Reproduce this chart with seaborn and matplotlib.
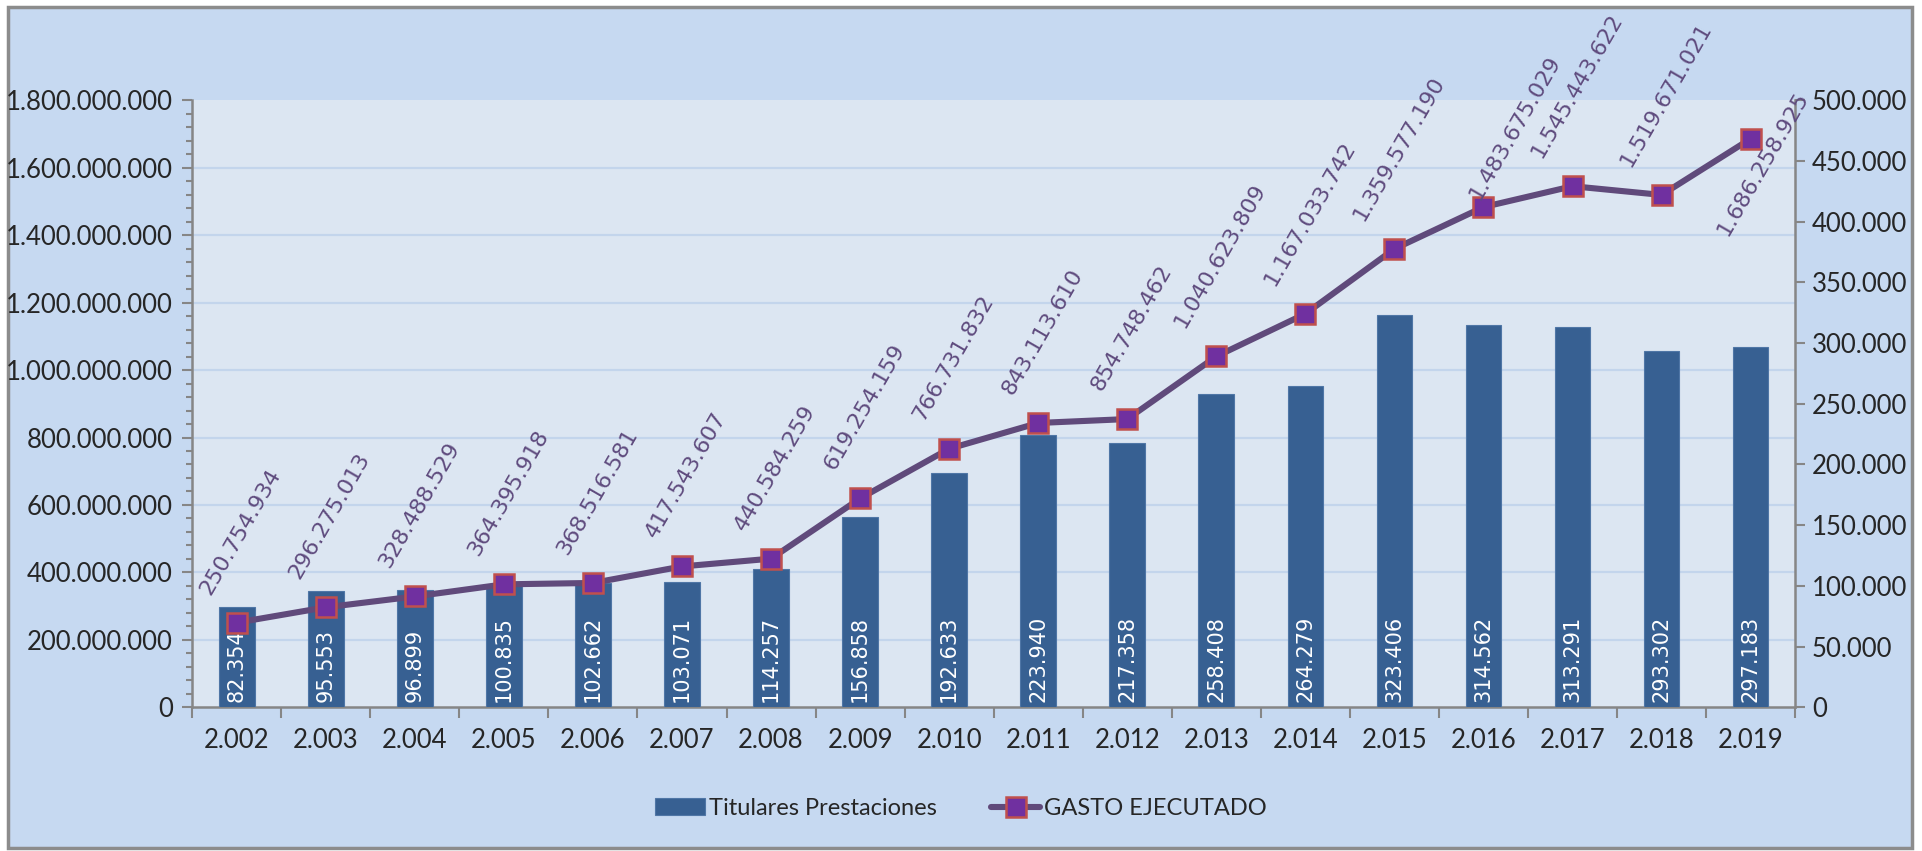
import numpy as np
import matplotlib
matplotlib.use("Agg")
import matplotlib.pyplot as plt
from matplotlib.patches import Rectangle
from matplotlib.ticker import FuncFormatter, MultipleLocator, FixedLocator
import seaborn as sns

# === DATA ===
years = ["2.002", "2.003", "2.004", "2.005", "2.006", "2.007", "2.008", "2.009", "2.010",
         "2.011", "2.012", "2.013", "2.014", "2.015", "2.016", "2.017", "2.018", "2.019"]
titulares = [82354, 95553, 96899, 100835, 102662, 103071, 114257, 156858, 192633,
             223940, 217358, 258408, 264279, 323406, 314562, 313291, 293302, 297183]
gasto = [250754934, 296275013, 328488529, 364395918, 368516581, 417543607, 440584259,
         619254159, 766731832, 843113610, 854748462, 1040623809, 1167033742,
         1359577190, 1483675029, 1545443622, 1519671021, 1686258925]

# === STYLE ===
BAR_COLOR = "#376092"
LINE_COLOR = "#604A7B"
LABEL_COLOR = "#5F4B7E"
MARK_FACE = "#7030A0"
MARK_EDGE = "#C0504D"
CHART_BG = "#C6D9F1"
PLOT_BG = "#DCE6F2"
GRID = "#C3D5EC"
SPINE = "#868686"
TICK_FS = 18.5

sns.set_theme(style="white")
plt.rcParams["font.family"] = ["Lato", "DejaVu Sans"]


def dots(v, pos=None):
    return f"{v:,.0f}".replace(",", ".")


fig = plt.figure(figsize=(19.22, 8.51), dpi=100)
fig.patch.set_facecolor("white")
fig.patches.append(Rectangle((0.004, 0.004), 0.991, 0.988, transform=fig.transFigure,
                             facecolor=CHART_BG, edgecolor="#8C8C8C", linewidth=2.5,
                             zorder=-10))

ax_bar = fig.add_axes([0.100, 0.169, 0.834, 0.713])
ax_bar.set_facecolor(PLOT_BG)
ax_line = ax_bar.twinx()

# bars on the right axis
sns.barplot(x=years, y=titulares, color=BAR_COLOR, saturation=1, width=0.4,
            ax=ax_bar, legend=False, zorder=3)
for p in ax_bar.patches:
    p.set_edgecolor("#4F76A6")
    p.set_linewidth(0.8)

# line on the left axis
x = np.arange(len(years))
sns.lineplot(x=x, y=gasto, ax=ax_line, color=LINE_COLOR, linewidth=4.4, marker="s",
             markersize=14, markerfacecolor=MARK_FACE, markeredgecolor=MARK_EDGE,
             markeredgewidth=1.8, legend=False)

L_MAX, R_MAX = 1.8e9, 5e5
ax_line.set_ylim(0, L_MAX)
ax_bar.set_ylim(0, R_MAX)
ax_bar.set_xlim(-0.5, len(years) - 0.5)
ax_line.set_xlim(-0.5, len(years) - 0.5)

# gridlines from the left axis, drawn behind the bars
for v in np.arange(2e8, L_MAX, 2e8):
    ax_bar.axhline(v / L_MAX * R_MAX, color=GRID, linewidth=1.6, zorder=1)

# axes / ticks
ax_line.yaxis.tick_left()
ax_line.yaxis.set_major_locator(MultipleLocator(2e8))
ax_line.yaxis.set_minor_locator(MultipleLocator(4e7))
ax_line.yaxis.set_major_formatter(FuncFormatter(dots))
ax_line.tick_params(axis="y", which="major", direction="out", length=7, width=1.5,
                    color=SPINE, labelsize=TICK_FS, pad=7, left=True, right=False)
ax_line.tick_params(axis="y", which="minor", direction="out", length=4, width=1.5,
                    color=SPINE, left=True, right=False)
ax_line.tick_params(axis="x", which="both", bottom=False, top=False, labelbottom=False)

ax_bar.yaxis.tick_right()
ax_bar.yaxis.set_major_locator(MultipleLocator(5e4))
ax_bar.yaxis.set_major_formatter(FuncFormatter(dots))
ax_bar.tick_params(axis="y", which="major", direction="out", length=7, width=1.5,
                   color=SPINE, labelsize=TICK_FS, pad=5, right=True, left=False)
ax_bar.set_xticks(x)
ax_bar.set_xticklabels(years)
ax_bar.xaxis.set_minor_locator(FixedLocator(np.arange(-0.5, len(years), 1.0)))
ax_bar.tick_params(axis="x", which="major", length=0, labelsize=TICK_FS, pad=15)
ax_bar.tick_params(axis="x", which="minor", direction="out", length=8, width=1.5,
                   color=SPINE, bottom=True)
ax_bar.set_xlabel("")
ax_bar.set_ylabel("")
ax_line.set_ylabel("")

for s in ["top", "left"]:
    ax_bar.spines[s].set_visible(False)
for s in ["top", "right", "bottom"]:
    ax_line.spines[s].set_visible(False)
for ax, sides in [(ax_bar, ["right", "bottom"]), (ax_line, ["left"])]:
    for s in sides:
        ax.spines[s].set_color(SPINE)
        ax.spines[s].set_linewidth(1.8)

# bar labels (white, rotated, inside base)
for i, v in enumerate(titulares):
    ax_bar.annotate(dots(v), (i, 0), xytext=(0, 4), textcoords="offset points",
                    rotation=90, ha="center", va="bottom", color="white",
                    fontsize=15, family="DejaVu Sans", zorder=4)

# line labels (purple, rotated, above)
for i, v in enumerate(gasto):
    off, va = (3, 18), "bottom"
    if i == len(gasto) - 1:
        off, va = (9, -18), "center"
    elif i == 14:
        off = (23, 3)
    ax_line.annotate(dots(v), (i, v), xytext=off, textcoords="offset points",
                     rotation=60, ha="center", va=va, color=LABEL_COLOR,
                     fontsize=16, family="DejaVu Sans")

# legend
handles = [ax_bar.patches[0], ax_line.lines[0]]
fig.legend(handles, ["Titulares Prestaciones", "GASTO EJECUTADO"], loc="center",
           bbox_to_anchor=(0.5, 0.05), ncol=2, frameon=False, fontsize=17,
           handlelength=2.1, handletextpad=0.15, columnspacing=2.3)

fig.savefig("out.png", dpi=100, facecolor=fig.get_facecolor())
